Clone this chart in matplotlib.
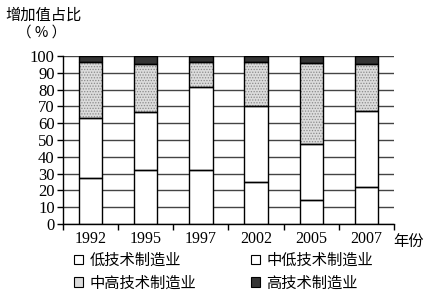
import matplotlib
matplotlib.use("Agg")
import matplotlib.pyplot as plt
from matplotlib.patches import Patch
import numpy as np

plt.rcParams['font.family'] = ['Liberation Serif', 'Noto Sans CJK SC', 'DejaVu Sans']
plt.rcParams['hatch.color'] = '#8a8a8a'
plt.rcParams['hatch.linewidth'] = 0.6

years = ['1992', '1995', '1997', '2002', '2005', '2007']
low = [27.5, 32, 32, 25, 14, 22]
mid_low = [35.5, 34.5, 49.5, 45, 33.5, 45]
mid_high = [33.5, 29, 15, 26.5, 48.5, 28]
high = [3.5, 4.5, 3.5, 3.5, 4, 5]
series_names = ['低技术制造业', '中低技术制造业', '中高技术制造业', '高技术制造业']
yticks = list(range(0, 101, 10))

colors = ['white', 'white', '#dcdcdc', '#353535']
hatches = [None, None, '......', None]

fig = plt.figure(figsize=(4.31, 3.04), dpi=100)
ax = fig.add_axes([63/431, 80/304, 331/431, 168/304])

x = np.arange(len(years))
for yv in yticks:
    ax.axhline(yv, color='#444444', lw=1.0, zorder=1)

bottom = np.zeros(len(years))
for vals, c, h in zip([low, mid_low, mid_high, high], colors, hatches):
    ax.bar(x, vals, width=0.42, bottom=bottom, color=c, hatch=h, linewidth=0, zorder=2)
    ax.bar(x, vals, width=0.42, bottom=bottom, fill=False, edgecolor='black', linewidth=1.0, zorder=3)
    bottom += np.array(vals)

ax.set_xlim(-0.5, 5.5)
ax.set_ylim(0, 100)
ax.set_yticks(yticks)
ax.set_yticklabels([str(v) for v in yticks], fontsize=12)
ax.set_xticks(np.arange(-0.5, 6, 1.0))
ax.set_xticklabels([])
ax.set_xticks(x, minor=True)
ax.set_xticklabels(years, minor=True, fontsize=11.5)
ax.tick_params(axis='x', which='minor', length=0, pad=5)
ax.tick_params(axis='x', which='major', direction='out', length=4, width=1)
ax.tick_params(axis='y', direction='out', length=4, width=1, pad=2)
for s in ['top', 'right']:
    ax.spines[s].set_visible(False)
ax.spines['left'].set_linewidth(1.0)
ax.spines['bottom'].set_linewidth(1.0)

fig.text(5/431, 1 - 15/304, '增加值占比', fontsize=11, va='center', ha='left',
         family=['Noto Sans CJK SC'])
fig.text(42/431, 1 - 33/304, '（ % ）', fontsize=10.5, va='center', ha='center',
         family=['Noto Sans CJK SC', 'DejaVu Sans'])
fig.text(393/431, 1 - 241/304, '年份', fontsize=11, va='center', ha='left',
         family=['Noto Sans CJK SC'])

handles = [Patch(facecolor=c, edgecolor='black', linewidth=0.8) for c in colors]
order = [0, 2, 1, 3]
leg = fig.legend([handles[i] for i in order], [series_names[i] for i in order],
                 ncol=2, loc='upper left', bbox_to_anchor=(74/431, 1 - 252/304),
                 frameon=False, handlelength=0.6, handleheight=0.6, handletextpad=0.4,
                 columnspacing=3.6, labelspacing=0.35, borderpad=0, borderaxespad=0,
                 prop={'family': 'Noto Sans CJK SC', 'size': 11})

fig.savefig('out.png', dpi=100)
